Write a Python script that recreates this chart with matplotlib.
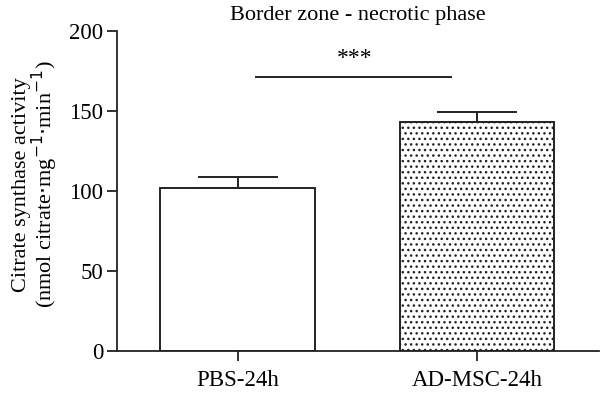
import numpy as np
import matplotlib.pyplot as plt

# data
groups = ["PBS-24h", "AD-MSC-24h"]
means = [102, 143]
sem = [7, 6.5]
sig_text = "***"
sig_y = 171

plt.rcParams['font.family'] = ['Liberation Serif', 'DejaVu Serif']
plt.rcParams['hatch.linewidth'] = 1.0

fig = plt.figure(figsize=(6, 3.99), dpi=100)
ax = fig.add_axes([0.195, 0.1203, 0.803, 0.802])

x = np.arange(len(groups))
ax.bar(x, means, width=0.645, color='white', edgecolor='#222222',
       linewidth=1.4, hatch=['', '...'], zorder=2)
ax.errorbar(x, means, yerr=[[0, 0], sem], fmt='none', ecolor='#222222',
            elinewidth=1.4, capsize=29, capthick=1.4, zorder=1)

# significance bar
ax.plot([0.075, 0.892], [sig_y, sig_y], color='#222222', lw=1.4)
ax.text(0.49, sig_y + 5, sig_text, ha='center', va='bottom', fontsize=17)

ax.set_xlim(-0.504, 1.508)
ax.set_ylim(0, 200)
ax.set_yticks([0, 50, 100, 150, 200])
ax.set_xticks(x)
ax.set_xticklabels(groups)
ax.tick_params(labelsize=16.5, length=7, width=1.3, color='#222222', pad=3)
ax.tick_params(axis='x', pad=7)
for s in ['top', 'right']:
    ax.spines[s].set_visible(False)
for s in ['left', 'bottom']:
    ax.spines[s].set_linewidth(1.3)
    ax.spines[s].set_color('#222222')

ax.set_ylabel("Citrate synthase activity\n(nmol citrate$\\cdot$mg$^{-1}$$\\cdot$min$^{-1}$)",
              fontsize=16, linespacing=0.95)
ax.yaxis.set_label_coords(-0.118, 0.52)
ax.set_title("Border zone - necrotic phase", fontsize=16, pad=8)

fig.savefig("out.png", dpi=100)
